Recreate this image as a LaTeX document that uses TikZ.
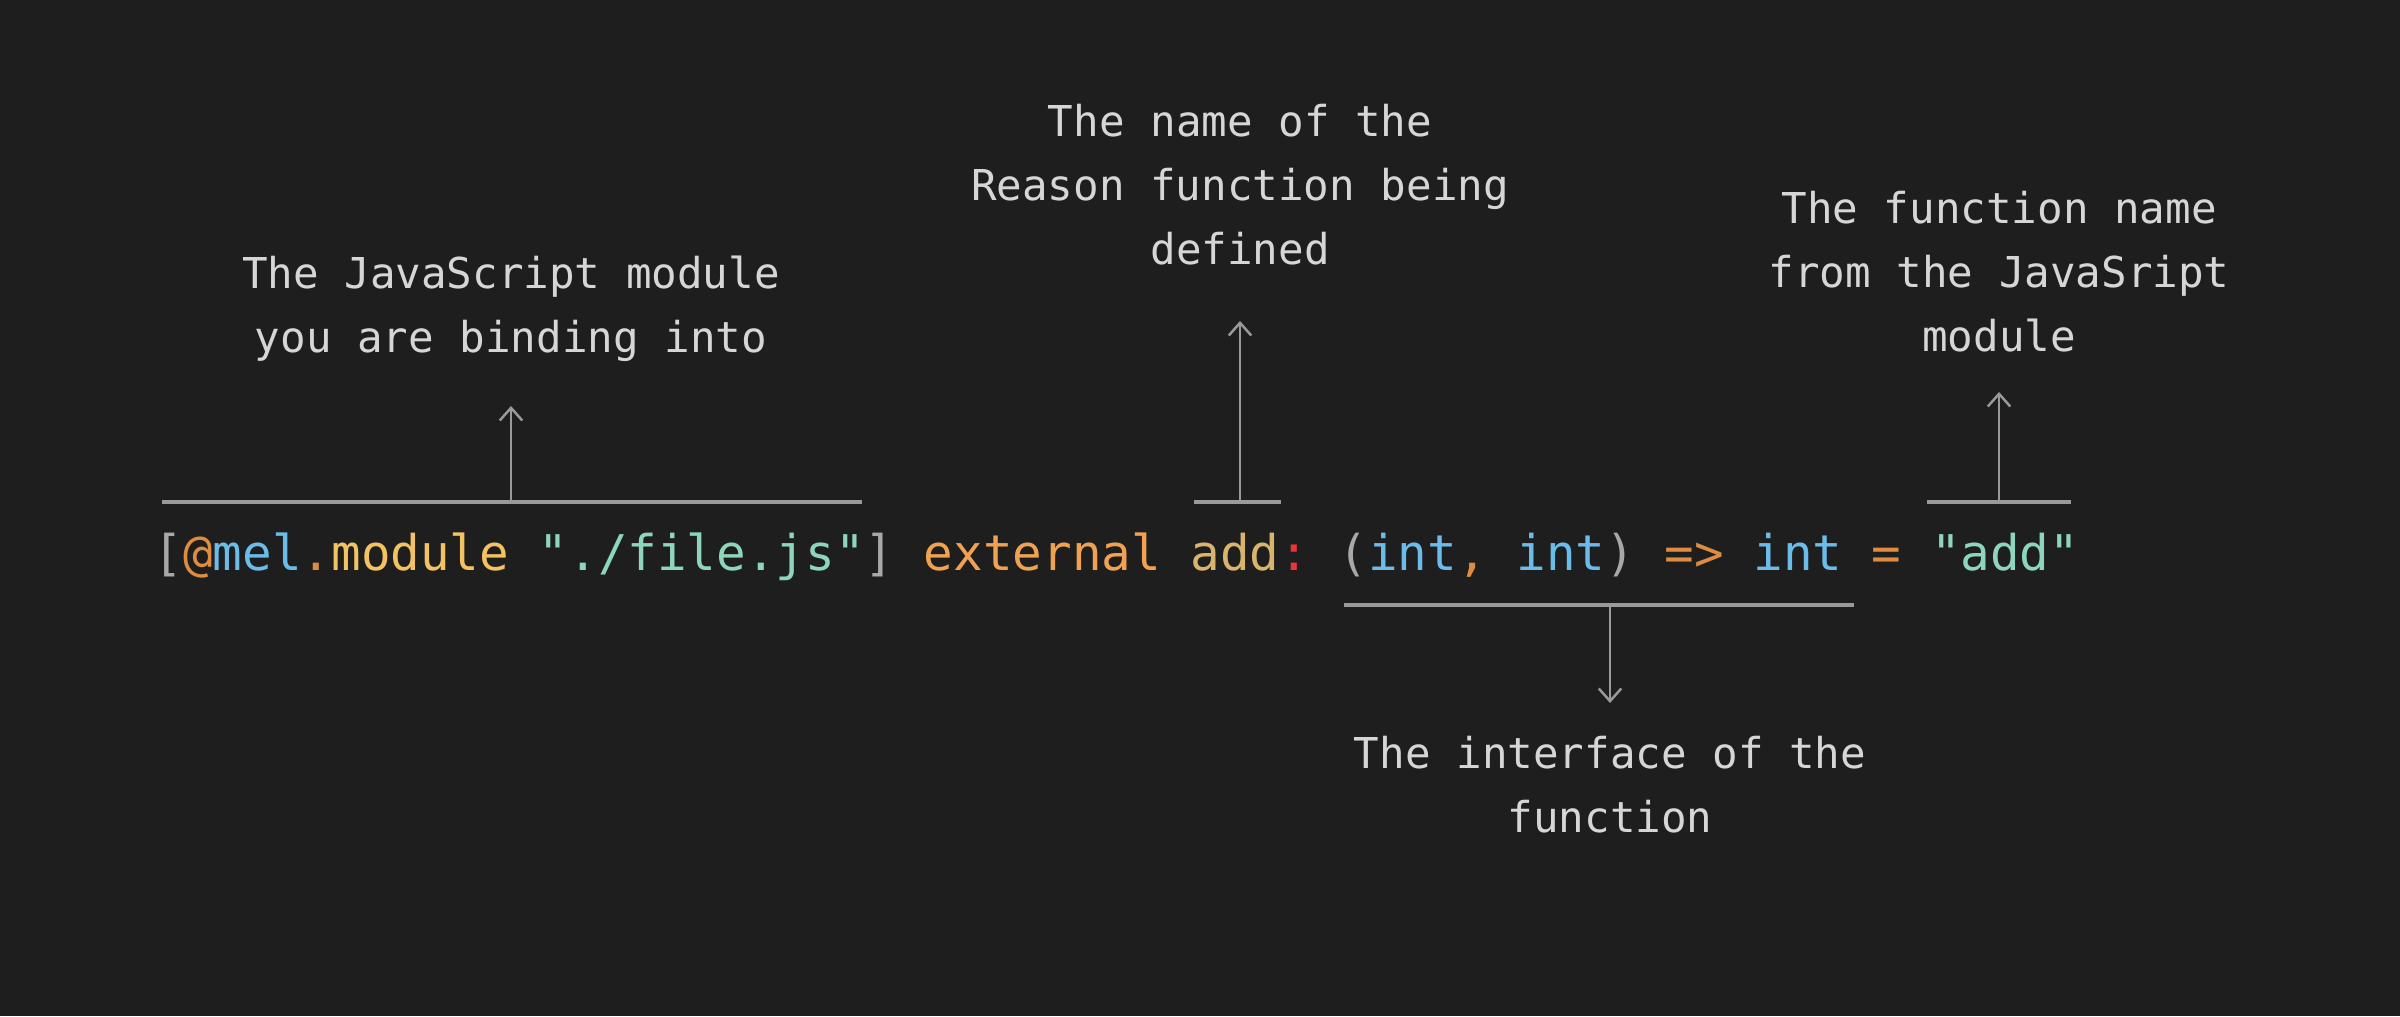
\documentclass[tikz,border=0pt]{standalone}
\usepackage{fontspec}
\newfontfamily\codefont{DejaVu Sans Mono}
\usetikzlibrary{arrows.meta}

\definecolor{bgdark}{HTML}{1E1E1E}
\definecolor{notegray}{HTML}{D6D6D6}
\definecolor{linegray}{HTML}{9A9A9A}
\definecolor{codegray}{HTML}{A8A8A8}
\definecolor{codeorange}{HTML}{DE8C42}
\definecolor{codeblue}{HTML}{6CBCEA}
\definecolor{codeyellow}{HTML}{F3C263}
\definecolor{codemint}{HTML}{8ED6BB}
\definecolor{codeext}{HTML}{F0A252}
\definecolor{codetan}{HTML}{D8B46C}
\definecolor{codered}{HTML}{EE3434}

\newcommand{\tok}[2]{\textcolor{#1}{#2}}

\tikzset{
  bar/.style={draw=linegray, line width=0.9pt},
  pointer/.style={draw=linegray, line width=0.7pt, -{Straight Barb[length=3.6pt,width=6.4pt]}},
  note/.style={text=notegray, align=center, inner sep=0pt, font=\codefont\frenchspacing\fontsize{12.1}{18.2}\selectfont},
  code/.style={inner sep=0pt, font=\codefont\frenchspacing\fontsize{14.0}{16}\selectfont}
}

\begin{document}
\begin{tikzpicture}
\fill[bgdark] (0,0) rectangle (24,10.16);
\useasboundingbox (0,0) rectangle (24,10.16);

%code line
\node[code, anchor=base west] (code) at (1.53,4.45) {\tok{codegray}{[}\tok{codeorange}{@}\tok{codeblue}{mel}\tok{codeorange}{.}\tok{codeyellow}{module} \tok{codemint}{"./file.js"}\tok{codegray}{]} \tok{codeext}{external} \tok{codetan}{add}\tok{codered}{:} \tok{codegray}{(}\tok{codeblue}{int}\tok{codeorange}{,} \tok{codeblue}{int}\tok{codegray}{)} \tok{codeorange}{=>} \tok{codeblue}{int} \tok{codeorange}{=} \tok{codemint}{"add"}};

%module
\coordinate (modL) at (1.62,5.14);
\coordinate (modR) at (8.62,5.14);
\coordinate (modM) at (5.11,5.14);
\coordinate (modTip) at (5.11,6.10);
\draw[bar] (modL) -- (modR);
\draw[pointer] (modM) -- (modTip);
\node[note] (modNote) at (5.11,7.07) {The JavaScript module\\you are binding into};

%reason name
\coordinate (nameL) at (11.94,5.14);
\coordinate (nameR) at (12.81,5.14);
\coordinate (nameM) at (12.40,5.14);
\coordinate (nameTip) at (12.40,6.95);
\draw[bar] (nameL) -- (nameR);
\draw[pointer] (nameM) -- (nameTip);
\node[note] (nameNote) at (12.40,8.31) {The name of the\\Reason function being\\defined};

%js name
\coordinate (jsL) at (19.27,5.14);
\coordinate (jsR) at (20.71,5.14);
\coordinate (jsM) at (19.99,5.14);
\coordinate (jsTip) at (19.99,6.24);
\draw[bar] (jsL) -- (jsR);
\draw[pointer] (jsM) -- (jsTip);
\node[note] (jsNote) at (19.99,7.44) {The function name\\from the JavaSript\\module};

%interface
\coordinate (typeL) at (13.44,4.11);
\coordinate (typeR) at (18.54,4.11);
\coordinate (typeM) at (16.10,4.11);
\coordinate (typeTip) at (16.10,3.13);
\draw[bar] (typeL) -- (typeR);
\draw[pointer] (typeM) -- (typeTip);
\node[note] (typeNote) at (16.10,2.31) {The interface of the\\function};

\end{tikzpicture}
\end{document}
